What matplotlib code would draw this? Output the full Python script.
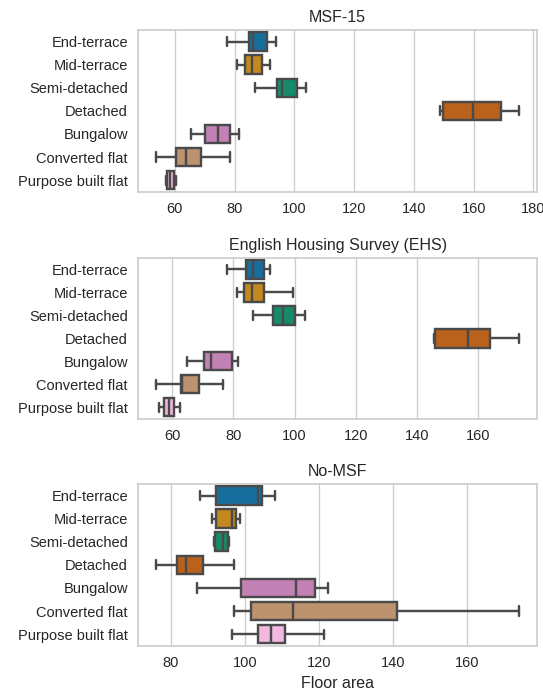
import matplotlib
matplotlib.use("Agg")
import matplotlib.pyplot as plt
import seaborn as sns

# dwelling types, top to bottom
categories = ["End-terrace", "Mid-terrace", "Semi-detached", "Detached",
              "Bungalow", "Converted flat", "Purpose built flat"]

# floor area box stats per type: (whisker low, q1, median, q3, whisker high)
msf15 = [
    (77.6, 84.8, 86.0, 90.8, 93.9),
    (80.8, 83.5, 85.8, 89.1, 91.9),
    (86.7, 94.2, 95.8, 100.8, 103.9),
    (148.7, 149.7, 159.9, 169.2, 175.2),
    (65.3, 70.0, 74.4, 78.5, 81.4),
    (53.7, 60.4, 63.7, 68.9, 78.5),
    (56.9, 57.4, 58.5, 59.8, 60.3),
]
ehs = [
    (77.8, 84.3, 86.5, 90.1, 92.1),
    (81.1, 83.5, 86.2, 90.1, 99.5),
    (86.3, 92.8, 96.2, 100.2, 103.3),
    (145.5, 145.9, 156.7, 163.7, 173.3),
    (64.8, 70.3, 72.7, 79.6, 81.4),
    (54.8, 62.9, 63.4, 68.8, 76.5),
    (55.9, 57.4, 59.1, 60.7, 62.6),
]
no_msf = [
    (87.9, 92.1, 103.4, 104.6, 108.2),
    (91.2, 92.1, 96.6, 97.7, 98.7),
    (91.6, 91.9, 94.0, 95.5, 95.6),
    (76.0, 81.6, 84.2, 88.8, 97.1),
    (87.1, 98.8, 113.7, 118.8, 122.3),
    (97.0, 101.7, 113.0, 141.1, 174.0),
    (96.5, 103.6, 107.1, 110.9, 121.2),
]

titles = ["MSF-15", "English Housing Survey (EHS)", "No-MSF"]
panels = [msf15, ehs, no_msf]

sns.set_theme(style="whitegrid")
plt.rcParams["font.family"] = ["Liberation Sans", "DejaVu Sans"]
plt.rcParams["ytick.major.pad"] = 1.5
plt.rcParams["xtick.major.pad"] = 2.0

palette = sns.color_palette("colorblind", len(categories), desat=0.75)
line_gray = "#4a4a4a"
lw = 1.8

fig = plt.figure(figsize=(543 / 96, 690 / 96), dpi=96)
boxes_pos = [(0.254, 0.7222, 0.7355, 0.2343),
             (0.254, 0.3932, 0.7355, 0.2329),
             (0.254, 0.0642, 0.7355, 0.2344)]

for pos, title, data in zip(boxes_pos, titles, panels):
    ax = fig.add_axes(pos)
    stats = []
    for lo, q1, med, q3, hi in data:
        stats.append({"whislo": lo, "q1": q1, "med": med, "q3": q3,
                      "whishi": hi, "fliers": []})
    art = ax.bxp(stats, positions=range(len(categories)), widths=0.8,
                 orientation="horizontal", patch_artist=True,
                 manage_ticks=False, showfliers=False,
                 boxprops=dict(edgecolor=line_gray, linewidth=lw),
                 whiskerprops=dict(color=line_gray, linewidth=lw),
                 capprops=dict(color=line_gray, linewidth=lw),
                 medianprops=dict(color=line_gray, linewidth=lw))
    for patch, c in zip(art["boxes"], palette):
        patch.set_facecolor(c)
    lo_all = min(d[0] for d in data)
    hi_all = max(d[4] for d in data)
    pad = (hi_all - lo_all) * 0.05
    ax.set_xlim(lo_all - pad, hi_all + pad)
    ax.set_ylim(len(categories) - 0.5, -0.5)
    ax.set_yticks(range(len(categories)))
    ax.set_yticklabels(categories)
    ax.yaxis.grid(False)
    ax.set_title(title)

ax.set_xlabel("Floor area")

fig.savefig("out.png", dpi=96)
